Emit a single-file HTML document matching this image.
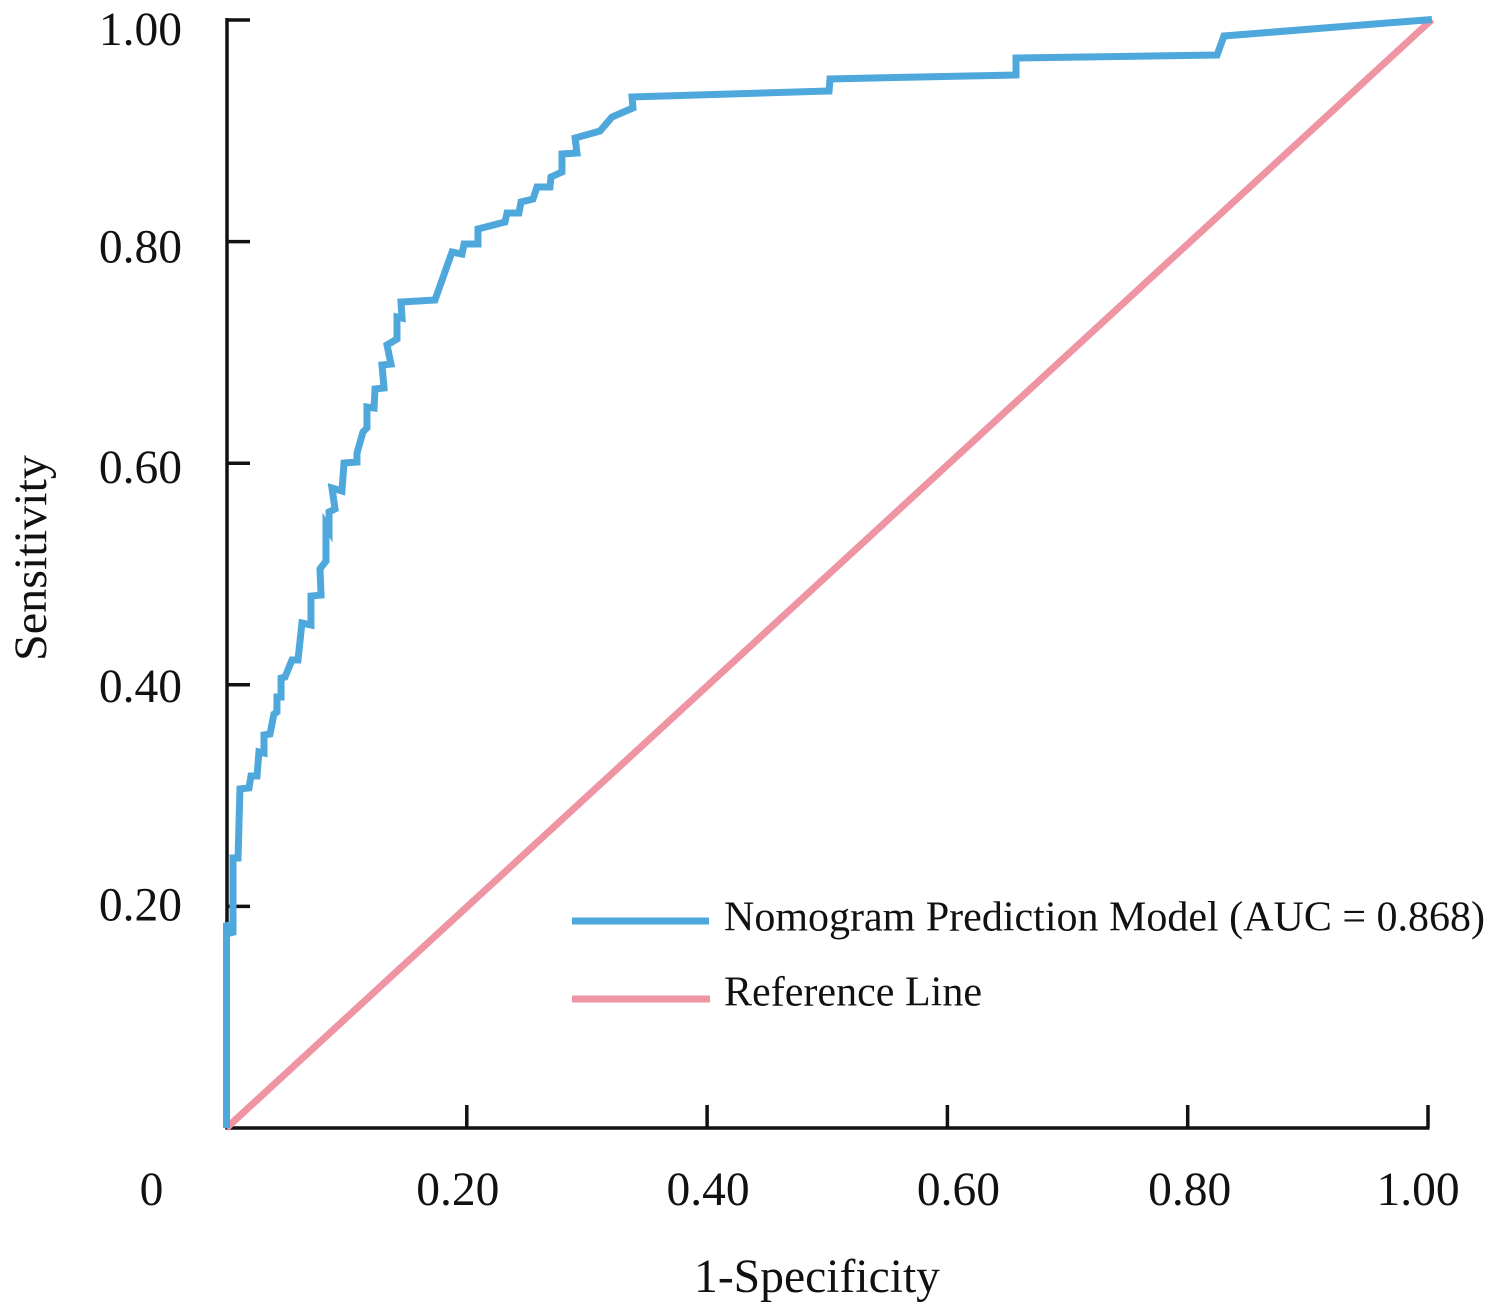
<!DOCTYPE html>
<html lang="en">
<head>
<meta charset="utf-8">
<title>ROC curve</title>
<style>
html,body{margin:0;padding:0;background:#fff;}
svg{display:block;}
text{font-family:"Liberation Serif","Times New Roman",serif;fill:#111;}
</style>
</head>
<body>
<svg id="chart" width="1495" height="1307" viewBox="0 0 1495 1307" xmlns="http://www.w3.org/2000/svg">
  <rect x="0" y="0" width="1495" height="1307" fill="#ffffff"/>
  <g id="axes"></g>
  <g id="series"></g>
  <text transform="translate(46,558) rotate(-90)" text-anchor="middle" font-size="47" textLength="206" lengthAdjust="spacingAndGlyphs">Sensitivity</text>
  <text x="817" y="1292" text-anchor="middle" font-size="48" textLength="246" lengthAdjust="spacingAndGlyphs">1-Specificity</text>
  <g>
    <line x1="572" y1="921" x2="709" y2="921" stroke="#4fa8dc" stroke-width="7"/>
    <text x="724" y="930.5" font-size="42" textLength="761">Nomogram Prediction Model (AUC = 0.868)</text>
    <line x1="572" y1="999" x2="710" y2="999" stroke="#ee94a3" stroke-width="7"/>
    <text x="724" y="1005.5" font-size="42" textLength="258">Reference Line</text>
  </g>
</svg>
<script>
const fpr = [0,0,0.0054,0.0054,0.0096,0.0112,0.0187,0.0204,0.0254,0.0270,0.0312,0.0312,0.0362,0.0395,0.0420,0.0420,0.0454,0.0454,0.0487,0.0545,0.0595,0.0628,0.0703,0.0703,0.0787,0.0778,0.0828,0.0828,0.0853,0.0853,0.0903,0.0878,0.0961,0.0978,0.1086,0.1086,0.1136,0.1169,0.1169,0.1228,0.1236,0.1311,0.1294,0.1369,0.1336,0.1419,0.1419,0.1461,0.1452,0.1735,0.1877,0.1960,0.1977,0.2093,0.2093,0.2318,0.2335,0.2434,0.2451,0.2551,0.2584,0.2692,0.2701,0.2792,0.2792,0.2917,0.2901,0.3109,0.3208,0.3383,0.3375,0.5015,0.5023,0.6571,0.6571,0.8244,0.8302,1.0033];
const tpr = [0,0.1850,0.1742,0.2437,0.2437,0.3060,0.3069,0.3177,0.3177,0.3394,0.3384,0.3547,0.3556,0.3736,0.3754,0.3890,0.3890,0.4061,0.4070,0.4224,0.4224,0.4558,0.4540,0.4801,0.4810,0.5045,0.5117,0.5442,0.5397,0.5560,0.5587,0.5776,0.5749,0.6002,0.6011,0.6092,0.6282,0.6318,0.6507,0.6498,0.6670,0.6679,0.6886,0.6895,0.7067,0.7121,0.7320,0.7310,0.7455,0.7473,0.7906,0.7888,0.7978,0.7978,0.8114,0.8177,0.8258,0.8258,0.8357,0.8384,0.8493,0.8493,0.8583,0.8628,0.8791,0.8800,0.8935,0.8998,0.9124,0.9206,0.9305,0.9359,0.9468,0.9504,0.9657,0.9684,0.9856,1.0005];
const refX = [0,1.0033];
const refY = [0,1.0005];
const xTicks = [0.2,0.4,0.6,0.8,1.0];
const yTicks = [0.2,0.4,0.6,0.8,1.0];
const xTickLabels = ["0.20","0.40","0.60","0.80","1.00"];
const yTickLabels = ["0.20","0.40","0.60","0.80","1.00"];
const originLabel = "0";

const NS = "http://www.w3.org/2000/svg";
const X0 = 226.5, XW = 1201.5, Y0 = 1128, YH = 1108;
function xScale(v){ return X0 + v * XW; }
function yScale(v){ return Y0 - v * YH; }
function xLabelNudge(i){ return [-9,1,11,2,-10][i]; }
function yLabelNudge(i){ return [14,17,20,21,25][i]; }

function make(tag, attrs, parent){
  const el = document.createElementNS(NS, tag);
  for (const k in attrs) el.setAttribute(k, attrs[k]);
  parent.appendChild(el);
  return el;
}
const axes = document.getElementById('axes');
const series = document.getElementById('series');

const yAxis = make('line',{x1:xScale(0)+0.5,y1:yScale(1)-2,x2:xScale(0)+0.5,y2:Y0+1.5,stroke:'#111','stroke-width':3.5},axes);


const xAxis = make('line',{x1:xScale(0),y1:Y0,x2:xScale(1)+1.5,y2:Y0,stroke:'#111','stroke-width':3.5},axes);



xTicks.forEach(function(t,i){
  const tick = make('line',{x1:xScale(t),y1:Y0,x2:xScale(t),y2:Y0-23,stroke:'#111','stroke-width':3.5},axes);
  
  
  const lab = make('text',{x:xScale(t)+xLabelNudge(i),y:1205,'text-anchor':'middle','font-size':47.5},axes);
  
  
  lab.textContent = xTickLabels[i];
});
const origin = make('text',{x:xScale(0)-75,y:1205,'text-anchor':'middle','font-size':47.5},axes);


origin.textContent = originLabel;

yTicks.forEach(function(t,i){
  const tick = make('line',{x1:xScale(0),y1:yScale(t),x2:250,y2:yScale(t),stroke:'#111','stroke-width':3.5},axes);
  
  
  const lab = make('text',{x:182,y:yScale(t)+yLabelNudge(i),'text-anchor':'end','font-size':47.5},axes);
  
  
  lab.textContent = yTickLabels[i];
});

function pathFrom(xs, ys){
  return xs.map(function(x,i){ return (i?'L':'M') + xScale(x).toFixed(2) + ' ' + yScale(ys[i]).toFixed(2); }).join(' ');
}
const refLine = make('path',{d:pathFrom(refX,refY),fill:'none',stroke:'#ee94a3','stroke-width':7},series);


const roc = make('path',{d:pathFrom(fpr,tpr),fill:'none',stroke:'#4fa8dc','stroke-width':7,'stroke-linejoin':'miter','stroke-miterlimit':4},series);


</script>
</body>
</html>
